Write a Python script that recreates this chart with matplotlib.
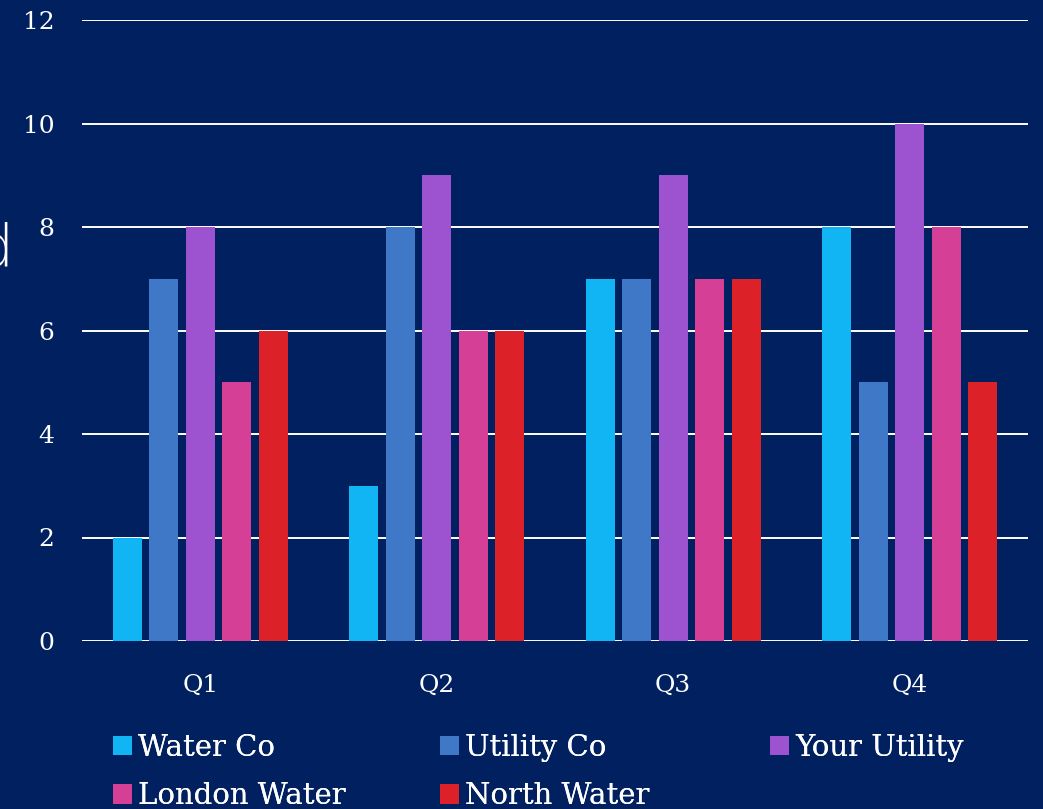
import matplotlib
matplotlib.use('Agg')
import matplotlib.pyplot as plt
import numpy as np

# data
quarters = ['Q1', 'Q2', 'Q3', 'Q4']
water_co = [2, 3, 7, 8]
utility_co = [7, 8, 7, 5]
your_utility = [8, 9, 9, 10]
london_water = [5, 6, 7, 8]
north_water = [6, 6, 7, 5]

names = ['Water Co', 'Utility Co', 'Your Utility', 'London Water', 'North Water']
colors = ['#12B5F3', '#3E78C6', '#9D52CF', '#D54096', '#DC2228']
series = [water_co, utility_co, your_utility, london_water, north_water]

bg = '#002060'
plt.rcParams['font.family'] = ['DejaVu Serif']

fig = plt.figure(figsize=(10.43, 8.09), dpi=100, facecolor=bg)
ax = fig.add_axes([82/1043, 1 - 641/809, 946/1043, 621/809], facecolor=bg)

x = np.arange(len(quarters))
step = 0.154
width = 0.123
bars = []
for i, (vals, name, c) in enumerate(zip(series, names, colors)):
    b = ax.bar(x + (i - 2) * step, vals, width, color=c, label=name, zorder=3)
    bars.append(b)

ax.set_xlim(-0.5, 3.5)
ax.set_ylim(0, 12)
ax.set_yticks(np.arange(0, 13, 2))
ax.set_xticks(x)
ax.set_xticklabels(quarters)
ax.grid(axis='y', color='white', linewidth=1.4, zorder=1)
ax.set_axisbelow(True)
for s in ax.spines.values():
    s.set_visible(False)
ax.tick_params(axis='y', length=0, pad=20, labelsize=18, colors='white')
ax.tick_params(axis='x', length=0, pad=24, labelsize=18, colors='white')

# cropped label fragment at the far left
fig.text(13/1043, 1 - 250/809, 'd', color='white', fontsize=42, family='DejaVu Sans',
         fontweight='light', ha='right', va='center')

# legend, one column per legend so the columns line up
cols = [(113, [0, 3]), (440, [1, 4]), (770, [2])]
for xpix, idx in cols:
    leg = fig.legend([bars[k] for k in idx], [names[k] for k in idx],
                     loc='upper left', bbox_to_anchor=(xpix/1043, 1 - 734/809),
                     frameon=False, fontsize=21, labelcolor='white',
                     handlelength=0.65, handleheight=0.65, handletextpad=0.2,
                     labelspacing=0.7, borderaxespad=0, borderpad=0)
    fig.add_artist(leg)

fig.savefig('out.png', dpi=100, facecolor=bg)
